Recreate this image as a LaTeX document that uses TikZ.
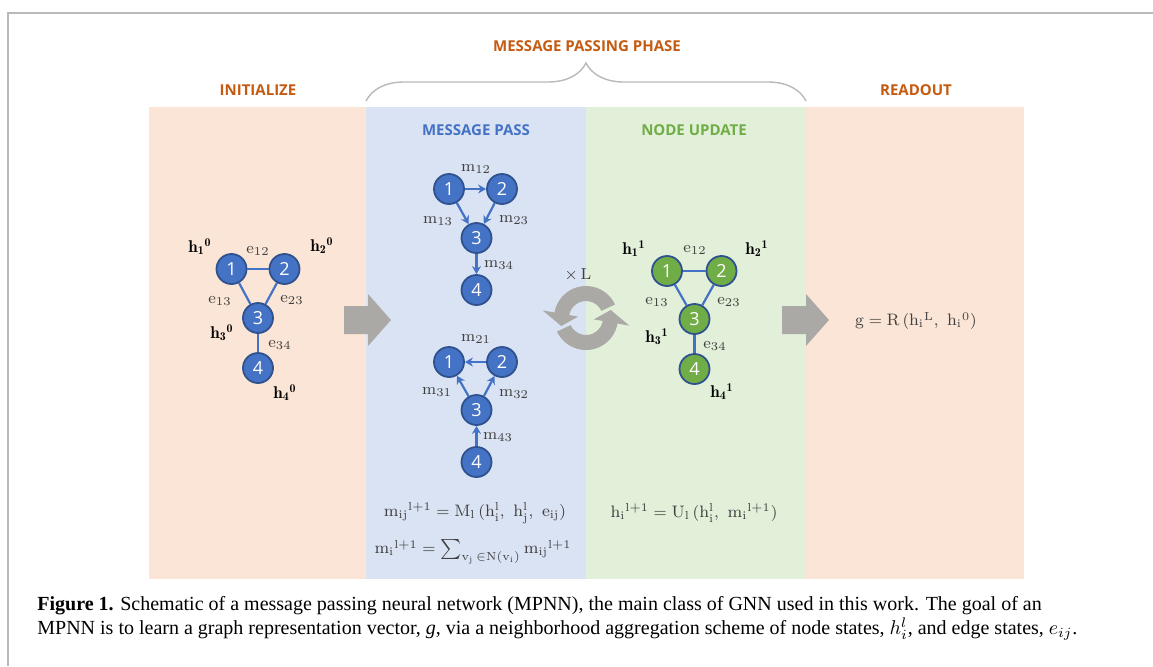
\documentclass[tikz,border=0pt]{standalone}
\usepackage{fontspec}
\newfontfamily\headfont{Open Sans}
\newfontfamily\capfont{Liberation Serif}
\usetikzlibrary{arrows.meta,decorations.pathreplacing}
\definecolor{peach}{HTML}{FBE5D6}
\definecolor{paleblue}{HTML}{DAE3F3}
\definecolor{palegreen}{HTML}{E2F0D9}
\definecolor{nodeblue}{HTML}{4472C4}
\definecolor{nodegreen}{HTML}{70AD47}
\definecolor{rimblue}{HTML}{2F528F}
\definecolor{titleorange}{HTML}{C55A11}
\definecolor{arrowgray}{HTML}{ABA9A6}
\definecolor{textgray}{HTML}{404040}
\begin{document}
\begin{tikzpicture}[x=0.5pt, y=0.5pt,
  vertex/.style={circle, draw=rimblue, line width=0.9pt, fill=nodeblue, minimum size=15pt,
    inner sep=0pt, text=white, font=\headfont\fontsize{9}{9}\selectfont},
  gvertex/.style={vertex, fill=nodegreen},
  edge/.style={nodeblue, line width=1.1pt},
  msg/.style={edge, -{Stealth[length=4pt, width=4.5pt]}},
  lbl/.style={text=textgray, font=\fontsize{8}{9}\selectfont},
  hlbl/.style={text=black, font=\fontsize{8.5}{9}\selectfont},
  title/.style={text=titleorange, font=\headfont\bfseries\fontsize{7.5}{8}\selectfont},
  eqn/.style={text=textgray, font=\fontsize{8.3}{10}\selectfont},
  caption/.style={anchor=west, inner sep=0pt, font=\capfont\fontsize{10}{11}\selectfont}]
  \useasboundingbox (0,0) rectangle (1153,-666);
  \fill[white] (0,0) rectangle (1153,-666);
  \draw[gray!55, line width=1pt] (8,-666) -- (8,-13) -- (1153,-13);

  % Phasen
  \fill[peach] (149,-107) rectangle (366,-579);
  \fill[paleblue] (366,-107) rectangle (586,-579);
  \fill[palegreen] (586,-107) rectangle (806,-579);
  \fill[peach] (806,-107) rectangle (1024,-579);

  \node[title] (phase) at (587,-46) {MESSAGE PASSING PHASE};
  \node[title] (init) at (258,-90) {INITIALIZE};
  \node[title] (readout) at (916,-90) {READOUT};
  \draw[decorate, decoration={brace, amplitude=19pt}, gray!55, line width=0.7pt]
    (366,-101) -- (806,-101);
  \node[title, text=nodeblue] (pass) at (476,-130) {MESSAGE PASS};
  \node[title, text=nodegreen] (update) at (694,-130) {NODE UPDATE};

  % Pfeile
  \begin{scope}[shift={(344,-320)}]
    \fill[arrowgray] (0,14) -- (24,14) -- (24,26) -- (47,0) -- (24,-26) -- (24,-14) -- (0,-14) -- cycle;
  \end{scope}
  \begin{scope}[shift={(782,-320)}]
    \fill[arrowgray] (0,14) -- (24,14) -- (24,26) -- (47,0) -- (24,-26) -- (24,-14) -- (0,-14) -- cycle;
  \end{scope}
  \begin{scope}[shift={(586,-318)}]
    \fill[arrowgray] (25:32) arc (25:170:32) -- (170:44) -- (198:26) -- (170:8) -- (170:17) arc (170:25:17) -- cycle;
    \fill[arrowgray] (205:32) arc (205:350:32) -- (350:44) -- (378:26) -- (350:8) -- (350:17) arc (350:205:17) -- cycle;
  \end{scope}
  \node[lbl] (times) at (578,-275) {$\times\,\mathrm{L}$};

  % Initialisierung
  \begin{scope}[shift={(231.5,-269)}]
    \node[vertex] (i1) at (0,0) {1};
    \node[vertex] (i2) at (53,0) {2};
    \node[vertex] (i3) at (26.5,-49) {3};
    \node[vertex] (i4) at (26.5,-99) {4};
    \draw[edge] (i1) -- (i2);
    \draw[edge] (i1) -- (i3);
    \draw[edge] (i2) -- (i3);
    \draw[edge] (i3) -- (i4);
    \node[hlbl] (ih1) at (-31.5,22) {$\mathbf{h_1{}^0}$};
    \node[hlbl] (ih2) at (90.5,23) {$\mathbf{h_2{}^0}$};
    \node[hlbl] (ih3) at (-9.5,-64) {$\mathbf{h_3{}^0}$};
    \node[hlbl] (ih4) at (53.5,-124) {$\mathbf{h_4{}^0}$};
    \node[lbl] (ie12) at (26.5,18) {$\mathrm{e_{12}}$};
    \node[lbl] (ie13) at (-11.5,-32) {$\mathrm{e_{13}}$};
    \node[lbl] (ie23) at (60.5,-31) {$\mathrm{e_{23}}$};
    \node[lbl] (ie34) at (48.5,-76) {$\mathrm{e_{34}}$};
  \end{scope}

  % Nachrichten
  \begin{scope}[shift={(449,-189)}]
    \node[vertex] (a1) at (0,0) {1};
    \node[vertex] (a2) at (53,0) {2};
    \node[vertex] (a3) at (27.5,-49) {3};
    \node[vertex] (a4) at (27.5,-101) {4};
    \draw[msg] (a1) -- (a2);
    \draw[msg] (a1) -- (a3);
    \draw[msg] (a2) -- (a3);
    \draw[msg] (a3) -- (a4);
    \node[lbl] (m12) at (27,20) {$\mathrm{m_{12}}$};
    \node[lbl] (m13) at (-11,-32) {$\mathrm{m_{13}}$};
    \node[lbl] (m23) at (65,-31) {$\mathrm{m_{23}}$};
    \node[lbl] (m34) at (50,-76) {$\mathrm{m_{34}}$};
  \end{scope}

  \begin{scope}[shift={(449,-362)}]
    \node[vertex] (b1) at (0,0) {1};
    \node[vertex] (b2) at (53,0) {2};
    \node[vertex] (b3) at (27.5,-48) {3};
    \node[vertex] (b4) at (27.5,-100) {4};
    \draw[msg] (b2) -- (b1);
    \draw[msg] (b3) -- (b1);
    \draw[msg] (b3) -- (b2);
    \draw[msg] (b4) -- (b3);
    \node[lbl] (m21) at (27,23) {$\mathrm{m_{21}}$};
    \node[lbl] (m31) at (-12,-30) {$\mathrm{m_{31}}$};
    \node[lbl] (m32) at (65,-32) {$\mathrm{m_{32}}$};
    \node[lbl] (m43) at (49,-75) {$\mathrm{m_{43}}$};
  \end{scope}

  % Update
  \begin{scope}[shift={(667,-271)}]
    \node[gvertex] (u1) at (0,0) {1};
    \node[gvertex] (u2) at (54.5,0) {2};
    \node[gvertex] (u3) at (27.5,-48) {3};
    \node[gvertex] (u4) at (27.5,-98) {4};
    \draw[edge] (u1) -- (u2);
    \draw[edge] (u1) -- (u3);
    \draw[edge] (u2) -- (u3);
    \draw[edge] (u3) -- (u4);
    \node[hlbl] (uh1) at (-33,22) {$\mathbf{h_1{}^1}$};
    \node[hlbl] (uh2) at (90,22) {$\mathbf{h_2{}^1}$};
    \node[hlbl] (uh3) at (-10,-66) {$\mathbf{h_3{}^1}$};
    \node[hlbl] (uh4) at (55,-121) {$\mathbf{h_4{}^1}$};
    \node[lbl] (ue12) at (28,21) {$\mathrm{e_{12}}$};
    \node[lbl] (ue13) at (-10,-31) {$\mathrm{e_{13}}$};
    \node[lbl] (ue23) at (62,-31) {$\mathrm{e_{23}}$};
    \node[lbl] (ue34) at (48,-75) {$\mathrm{e_{34}}$};
  \end{scope}

  % Gleichungen
  \node[eqn] (eqm) at (475,-513) {$\mathrm{m_{ij}{}^{l+1} = M_l\,(h_i^l,\ h_j^l,\ e_{ij})}$};
  \node[eqn] (eqsum) at (473,-552) {$\mathrm{m_i{}^{l+1} = \sum\nolimits_{v_j\,\in N(v_i)} m_{ij}{}^{l+1}}$};
  \node[eqn] (equ) at (694,-513) {$\mathrm{h_i{}^{l+1} = U_l\,(h_i^l,\ m_i{}^{l+1})}$};
  \node[eqn] (eqr) at (916,-321) {$\mathrm{g = R\,(h_i{}^L,\ h_i{}^0)}$};

  % Bildunterschrift
  \node[caption] (cap1) at (37,-606) {\textbf{Figure 1.} Schematic of a message passing neural network (MPNN), the main class of GNN used in this work. The goal of an};
  \node[caption] (cap2) at (37,-629) {MPNN is to learn a graph representation vector, \textit{g}, via a neighborhood aggregation scheme of node states, $h^l_i$, and edge states, $e_{ij}$.};
\end{tikzpicture}
\end{document}
